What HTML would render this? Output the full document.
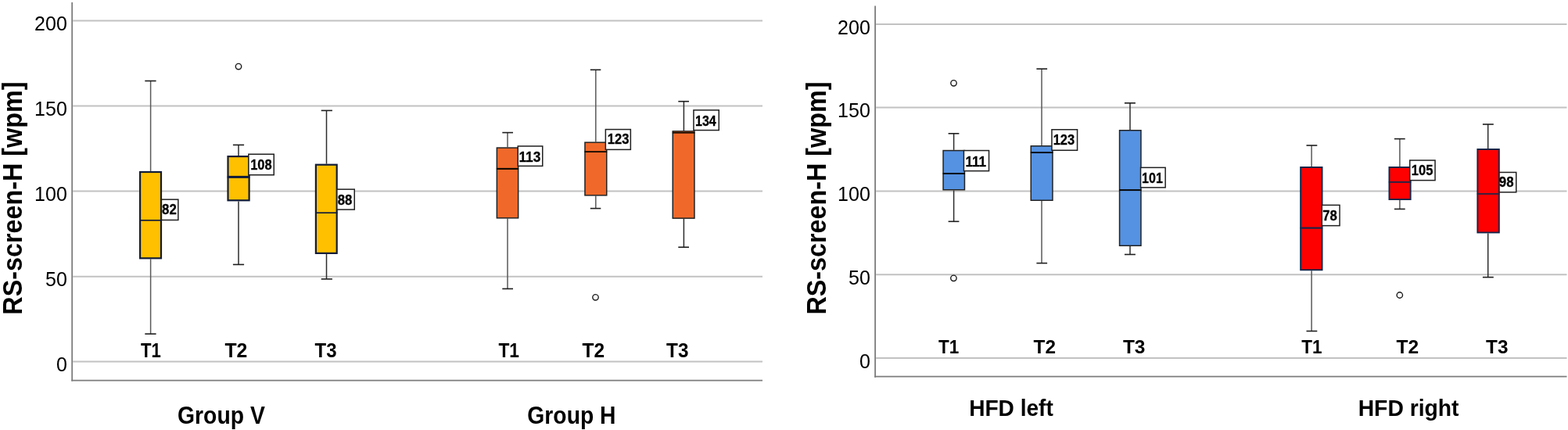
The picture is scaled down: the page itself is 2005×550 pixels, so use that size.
<!DOCTYPE html>
<html><head><meta charset="utf-8"><title>RS-screen-H boxplots</title><style>
html,body{margin:0;padding:0;background:#fff;}
body{width:2005px;height:550px;overflow:hidden;}
svg{display:block;}
text{font-family:"Liberation Sans",Arial,sans-serif;fill:#000;}
.tk{font-size:25px;}
.ttl{font-size:35.6px;font-weight:bold;}
.lb{font-size:18px;font-weight:bold;stroke:#000;stroke-width:0.3px;}
.cat{font-size:25px;font-weight:bold;}
.grp{font-weight:bold;}
</style></head><body>
<svg width="2005" height="550" viewBox="0 0 2005 550">
<rect width="2005" height="550" fill="#fff"/>
<line x1="93.2" y1="26.5" x2="975" y2="26.5" stroke="#c2c2c2" stroke-width="2"/>
<line x1="93.2" y1="135.5" x2="975" y2="135.5" stroke="#c2c2c2" stroke-width="2"/>
<line x1="93.2" y1="244.5" x2="975" y2="244.5" stroke="#c2c2c2" stroke-width="2"/>
<line x1="93.2" y1="353.8" x2="975" y2="353.8" stroke="#c2c2c2" stroke-width="2"/>
<line x1="93.2" y1="462.6" x2="975" y2="462.6" stroke="#c2c2c2" stroke-width="2"/>
<line x1="92.2" y1="3" x2="92.2" y2="487.6" stroke="#7d7d7d" stroke-width="1.8"/>
<line x1="91.3" y1="486.6" x2="975" y2="486.6" stroke="#7d7d7d" stroke-width="1.8"/>
<text x="85.8" y="39.1" text-anchor="end" class="tk">200</text>
<text x="85.8" y="148.1" text-anchor="end" class="tk">150</text>
<text x="85.8" y="257.1" text-anchor="end" class="tk">100</text>
<text x="85.8" y="366.4" text-anchor="end" class="tk">50</text>
<text x="85.8" y="475.2" text-anchor="end" class="tk">0</text>
<text transform="translate(28.1,253.65) rotate(-90)" text-anchor="middle" class="ttl" textLength="298.1" lengthAdjust="spacingAndGlyphs">RS-screen-H [wpm]</text>
<line x1="1120.1" y1="30.9" x2="2003.5" y2="30.9" stroke="#c2c2c2" stroke-width="2"/>
<line x1="1120.1" y1="137.6" x2="2003.5" y2="137.6" stroke="#c2c2c2" stroke-width="2"/>
<line x1="1120.1" y1="244.4" x2="2003.5" y2="244.4" stroke="#c2c2c2" stroke-width="2"/>
<line x1="1120.1" y1="351.3" x2="2003.5" y2="351.3" stroke="#c2c2c2" stroke-width="2"/>
<line x1="1120.1" y1="458.1" x2="2003.5" y2="458.1" stroke="#c2c2c2" stroke-width="2"/>
<line x1="1119.1" y1="7.6" x2="1119.1" y2="482.7" stroke="#7d7d7d" stroke-width="1.8"/>
<line x1="1118.2" y1="481.7" x2="2003.5" y2="481.7" stroke="#7d7d7d" stroke-width="1.8"/>
<text x="1112.8" y="43.6" text-anchor="end" class="tk">200</text>
<text x="1112.8" y="150.3" text-anchor="end" class="tk">150</text>
<text x="1112.8" y="257.1" text-anchor="end" class="tk">100</text>
<text x="1112.8" y="364" text-anchor="end" class="tk">50</text>
<text x="1112.8" y="470.8" text-anchor="end" class="tk">0</text>
<text transform="translate(1055.7,253.55) rotate(-90)" text-anchor="middle" class="ttl" textLength="298.1" lengthAdjust="spacingAndGlyphs">RS-screen-H [wpm]</text>
<line x1="192.6" y1="103.5" x2="192.6" y2="218.9" stroke="#595959" stroke-width="1.5"/>
<line x1="192.6" y1="331.4" x2="192.6" y2="427.1" stroke="#595959" stroke-width="1.5"/>
<line x1="185.3" y1="103.5" x2="199.6" y2="103.5" stroke="#1e1e1e" stroke-width="1.6"/>
<line x1="185.3" y1="427.1" x2="199.6" y2="427.1" stroke="#1e1e1e" stroke-width="1.6"/>
<rect x="179.1" y="220" width="26.9" height="110.3" fill="#ffc000" stroke="#111c3a" stroke-width="2.2"/>
<line x1="305" y1="185.4" x2="305" y2="199" stroke="#2c2c2c" stroke-width="1.5"/>
<line x1="305" y1="257.4" x2="305" y2="338.4" stroke="#2c2c2c" stroke-width="1.5"/>
<line x1="297.9" y1="185.4" x2="312.1" y2="185.4" stroke="#1e1e1e" stroke-width="1.6"/>
<line x1="297.9" y1="338.4" x2="312.1" y2="338.4" stroke="#1e1e1e" stroke-width="1.6"/>
<rect x="291.5" y="200.1" width="27.1" height="56.2" fill="#ffc000" stroke="#111c3a" stroke-width="2.2"/>
<circle cx="305" cy="85.1" r="3.7" fill="none" stroke="#1a1a1a" stroke-width="1.4"/>
<line x1="417.5" y1="141.4" x2="417.5" y2="209.6" stroke="#2c2c2c" stroke-width="1.5"/>
<line x1="417.5" y1="325" x2="417.5" y2="356.9" stroke="#2c2c2c" stroke-width="1.5"/>
<line x1="410.7" y1="141.4" x2="424.9" y2="141.4" stroke="#1e1e1e" stroke-width="1.6"/>
<line x1="410.7" y1="356.9" x2="424.9" y2="356.9" stroke="#1e1e1e" stroke-width="1.6"/>
<rect x="403.9" y="210.7" width="26.8" height="113.2" fill="#ffc000" stroke="#111c3a" stroke-width="2.2"/>
<line x1="649" y1="169.6" x2="649" y2="188.3" stroke="#595959" stroke-width="1.5"/>
<line x1="649" y1="279.6" x2="649" y2="369.4" stroke="#595959" stroke-width="1.5"/>
<line x1="642.3" y1="169.6" x2="656" y2="169.6" stroke="#1e1e1e" stroke-width="1.6"/>
<line x1="642.3" y1="369.4" x2="656" y2="369.4" stroke="#1e1e1e" stroke-width="1.6"/>
<rect x="635.35" y="189.05" width="27.3" height="89.8" fill="#f0692a" stroke="#222222" stroke-width="1.5"/>
<line x1="761.8" y1="89.3" x2="761.8" y2="181.4" stroke="#595959" stroke-width="1.5"/>
<line x1="761.8" y1="250.6" x2="761.8" y2="266.6" stroke="#595959" stroke-width="1.5"/>
<line x1="754.8" y1="89.3" x2="768.3" y2="89.3" stroke="#1e1e1e" stroke-width="1.6"/>
<line x1="754.8" y1="266.6" x2="768.3" y2="266.6" stroke="#1e1e1e" stroke-width="1.6"/>
<rect x="747.95" y="182.15" width="27.8" height="67.7" fill="#f0692a" stroke="#222222" stroke-width="1.5"/>
<circle cx="761.5" cy="380.3" r="3.7" fill="none" stroke="#1a1a1a" stroke-width="1.4"/>
<line x1="874.4" y1="129.7" x2="874.4" y2="167.1" stroke="#2c2c2c" stroke-width="1.5"/>
<line x1="874.4" y1="279.9" x2="874.4" y2="316.2" stroke="#2c2c2c" stroke-width="1.5"/>
<line x1="867.3" y1="129.7" x2="881" y2="129.7" stroke="#1e1e1e" stroke-width="1.6"/>
<line x1="867.3" y1="316.2" x2="881" y2="316.2" stroke="#1e1e1e" stroke-width="1.6"/>
<rect x="860.25" y="167.85" width="27.7" height="111.3" fill="#f0692a" stroke="#222222" stroke-width="1.5"/>
<line x1="1219.6" y1="170.8" x2="1219.6" y2="191.8" stroke="#2c2c2c" stroke-width="1.5"/>
<line x1="1219.6" y1="243.5" x2="1219.6" y2="283.3" stroke="#2c2c2c" stroke-width="1.5"/>
<line x1="1212.6" y1="170.8" x2="1226.4" y2="170.8" stroke="#1e1e1e" stroke-width="1.6"/>
<line x1="1212.6" y1="283.3" x2="1226.4" y2="283.3" stroke="#1e1e1e" stroke-width="1.6"/>
<rect x="1206.05" y="192.55" width="27.4" height="50.2" fill="#5592e2" stroke="#222222" stroke-width="1.5"/>
<circle cx="1219.5" cy="106.3" r="3.7" fill="none" stroke="#1a1a1a" stroke-width="1.4"/>
<circle cx="1219.4" cy="355.8" r="3.7" fill="none" stroke="#1a1a1a" stroke-width="1.4"/>
<line x1="1332" y1="88.1" x2="1332" y2="186" stroke="#595959" stroke-width="1.5"/>
<line x1="1332" y1="257" x2="1332" y2="336.6" stroke="#595959" stroke-width="1.5"/>
<line x1="1325.4" y1="88.1" x2="1339.1" y2="88.1" stroke="#1e1e1e" stroke-width="1.6"/>
<line x1="1325.4" y1="336.6" x2="1339.1" y2="336.6" stroke="#1e1e1e" stroke-width="1.6"/>
<rect x="1318.25" y="186.75" width="27.7" height="69.5" fill="#5592e2" stroke="#222222" stroke-width="1.5"/>
<line x1="1445" y1="131.8" x2="1445" y2="166" stroke="#2c2c2c" stroke-width="1.5"/>
<line x1="1445" y1="315" x2="1445" y2="325.5" stroke="#2c2c2c" stroke-width="1.5"/>
<line x1="1437.9" y1="131.8" x2="1451.9" y2="131.8" stroke="#1e1e1e" stroke-width="1.6"/>
<line x1="1437.9" y1="325.5" x2="1451.9" y2="325.5" stroke="#1e1e1e" stroke-width="1.6"/>
<rect x="1431.55" y="166.75" width="27.4" height="147.5" fill="#5592e2" stroke="#222222" stroke-width="1.5"/>
<line x1="1677.1" y1="186" x2="1677.1" y2="213" stroke="#595959" stroke-width="1.5"/>
<line x1="1677.1" y1="346.2" x2="1677.1" y2="423.5" stroke="#595959" stroke-width="1.5"/>
<line x1="1670.5" y1="186" x2="1684.3" y2="186" stroke="#1e1e1e" stroke-width="1.6"/>
<line x1="1670.5" y1="423.5" x2="1684.3" y2="423.5" stroke="#1e1e1e" stroke-width="1.6"/>
<rect x="1663.15" y="213.95" width="27.4" height="131.3" fill="#ff0000" stroke="#13264a" stroke-width="1.9"/>
<line x1="1789.9" y1="177.6" x2="1789.9" y2="213" stroke="#595959" stroke-width="1.5"/>
<line x1="1789.9" y1="256" x2="1789.9" y2="267.4" stroke="#595959" stroke-width="1.5"/>
<line x1="1782.9" y1="177.6" x2="1796.7" y2="177.6" stroke="#1e1e1e" stroke-width="1.6"/>
<line x1="1782.9" y1="267.4" x2="1796.7" y2="267.4" stroke="#1e1e1e" stroke-width="1.6"/>
<rect x="1776.45" y="213.95" width="27.2" height="41.1" fill="#ff0000" stroke="#13264a" stroke-width="1.9"/>
<circle cx="1789.8" cy="377.5" r="3.7" fill="none" stroke="#1a1a1a" stroke-width="1.4"/>
<line x1="1902.7" y1="159" x2="1902.7" y2="190" stroke="#2c2c2c" stroke-width="1.5"/>
<line x1="1902.7" y1="298.4" x2="1902.7" y2="354.6" stroke="#2c2c2c" stroke-width="1.5"/>
<line x1="1895.9" y1="159" x2="1909.8" y2="159" stroke="#1e1e1e" stroke-width="1.6"/>
<line x1="1895.9" y1="354.6" x2="1909.8" y2="354.6" stroke="#1e1e1e" stroke-width="1.6"/>
<rect x="1889.35" y="190.95" width="27.5" height="106.5" fill="#ff0000" stroke="#13264a" stroke-width="1.9"/>
<rect x="206.45" y="255.15" width="21.4" height="26.3" fill="#fff" stroke="#202020" stroke-width="1.5"/>
<text x="207.12" y="273.87" class="lb" textLength="18.72" lengthAdjust="spacingAndGlyphs">82</text>
<line x1="178.3" y1="281.8" x2="206.8" y2="281.8" stroke="#111c3a" stroke-width="1.7"/>
<rect x="317.85" y="197.25" width="32.4" height="26.5" fill="#fff" stroke="#202020" stroke-width="1.5"/>
<text x="320.16" y="217.07" class="lb" textLength="27.51" lengthAdjust="spacingAndGlyphs">108</text>
<line x1="290.7" y1="226.4" x2="319.4" y2="226.4" stroke="#111c3a" stroke-width="3.0"/>
<rect x="430.85" y="242.15" width="22.4" height="25.9" fill="#fff" stroke="#202020" stroke-width="1.5"/>
<text x="431.63" y="261.97" class="lb" textLength="18.61" lengthAdjust="spacingAndGlyphs">88</text>
<line x1="403.1" y1="272.2" x2="431.5" y2="272.2" stroke="#111c3a" stroke-width="1.7"/>
<rect x="662.25" y="186.95" width="31.5" height="25.4" fill="#fff" stroke="#202020" stroke-width="1.5"/>
<text x="663.41" y="206.52" class="lb" textLength="27.91" lengthAdjust="spacingAndGlyphs">113</text>
<line x1="634.9" y1="215.9" x2="663.1" y2="215.9" stroke="#120800" stroke-width="2.1"/>
<rect x="774.35" y="165.55" width="32" height="25.8" fill="#fff" stroke="#202020" stroke-width="1.5"/>
<text x="776.86" y="184.32" class="lb" textLength="27.71" lengthAdjust="spacingAndGlyphs">123</text>
<line x1="747.5" y1="194.1" x2="776.2" y2="194.1" stroke="#120800" stroke-width="1.8"/>
<rect x="886.95" y="140.85" width="32.3" height="25.7" fill="#fff" stroke="#202020" stroke-width="1.5"/>
<text x="889.09" y="160.52" class="lb" textLength="26.7" lengthAdjust="spacingAndGlyphs">134</text>
<line x1="859.8" y1="169.8" x2="888.4" y2="169.8" stroke="#120800" stroke-width="1.7"/>
<rect x="1232.45" y="192.55" width="32.1" height="26.1" fill="#fff" stroke="#202020" stroke-width="1.5"/>
<text x="1234.42" y="212.52" class="lb" textLength="26.74" lengthAdjust="spacingAndGlyphs">111</text>
<line x1="1205.6" y1="222" x2="1233.9" y2="222" stroke="#050505" stroke-width="2.0"/>
<rect x="1344.95" y="165.75" width="32.6" height="26.5" fill="#fff" stroke="#202020" stroke-width="1.5"/>
<text x="1346.66" y="185.17" class="lb" textLength="27.5" lengthAdjust="spacingAndGlyphs">123</text>
<line x1="1317.8" y1="195.1" x2="1346.4" y2="195.1" stroke="#050505" stroke-width="1.9"/>
<rect x="1458.55" y="214.35" width="31.6" height="25.5" fill="#fff" stroke="#202020" stroke-width="1.5"/>
<text x="1460.09" y="233.52" class="lb" textLength="26.77" lengthAdjust="spacingAndGlyphs">101</text>
<line x1="1431.1" y1="243.1" x2="1459.4" y2="243.1" stroke="#050505" stroke-width="2.0"/>
<rect x="1690.35" y="262.35" width="22.7" height="26.3" fill="#fff" stroke="#202020" stroke-width="1.5"/>
<text x="1691.14" y="281.87" class="lb" textLength="18.61" lengthAdjust="spacingAndGlyphs">78</text>
<line x1="1662.5" y1="291.6" x2="1691.2" y2="291.6" stroke="#1a2548" stroke-width="2.2"/>
<rect x="1802.75" y="205.05" width="32.3" height="25.6" fill="#fff" stroke="#202020" stroke-width="1.5"/>
<text x="1804.86" y="224.32" class="lb" textLength="27.61" lengthAdjust="spacingAndGlyphs">105</text>
<line x1="1775.8" y1="232.9" x2="1804.3" y2="232.9" stroke="#1a2548" stroke-width="1.8"/>
<rect x="1917.05" y="220.45" width="21.7" height="25.4" fill="#fff" stroke="#202020" stroke-width="1.5"/>
<text x="1916.82" y="239.47" class="lb" textLength="18.72" lengthAdjust="spacingAndGlyphs">98</text>
<line x1="1888.7" y1="248" x2="1917.5" y2="248" stroke="#1a2548" stroke-width="1.7"/>
<text x="180.03" y="457.05" class="cat" style="font-size:25px" textLength="25.86" lengthAdjust="spacingAndGlyphs">T1</text>
<text x="287.4" y="457.2" class="cat" style="font-size:25px" textLength="28.86" lengthAdjust="spacingAndGlyphs">T2</text>
<text x="402.61" y="457.05" class="cat" style="font-size:25px" textLength="28.03" lengthAdjust="spacingAndGlyphs">T3</text>
<text x="637.43" y="457.1" class="cat" style="font-size:25px" textLength="26.59" lengthAdjust="spacingAndGlyphs">T1</text>
<text x="744.61" y="457.2" class="cat" style="font-size:25px" textLength="28.55" lengthAdjust="spacingAndGlyphs">T2</text>
<text x="852.11" y="457.05" class="cat" style="font-size:25px" textLength="28.34" lengthAdjust="spacingAndGlyphs">T3</text>
<text x="1199.93" y="451.57" class="cat" style="font-size:24.2px" textLength="26.28" lengthAdjust="spacingAndGlyphs">T1</text>
<text x="1321.61" y="451.67" class="cat" style="font-size:24.2px" textLength="28.44" lengthAdjust="spacingAndGlyphs">T2</text>
<text x="1435.91" y="451.52" class="cat" style="font-size:24.2px" textLength="28.55" lengthAdjust="spacingAndGlyphs">T3</text>
<text x="1664.13" y="451.57" class="cat" style="font-size:24.2px" textLength="26.28" lengthAdjust="spacingAndGlyphs">T1</text>
<text x="1785.61" y="451.67" class="cat" style="font-size:24.2px" textLength="28.65" lengthAdjust="spacingAndGlyphs">T2</text>
<text x="1900.11" y="451.52" class="cat" style="font-size:24.2px" textLength="28.34" lengthAdjust="spacingAndGlyphs">T3</text>
<text x="227.07" y="542.3" class="grp" style="font-size:30.5px" textLength="111.75" lengthAdjust="spacingAndGlyphs">Group V</text>
<text x="674.37" y="542.3" class="grp" style="font-size:30.5px" textLength="113.1" lengthAdjust="spacingAndGlyphs">Group H</text>
<text x="1239.2" y="531.8" class="grp" style="font-size:28.6px" textLength="107.63" lengthAdjust="spacingAndGlyphs">HFD left</text>
<text x="1736.68" y="531.8" class="grp" style="font-size:28.6px" textLength="128.85" lengthAdjust="spacingAndGlyphs">HFD right</text>
</svg>
</body></html>
